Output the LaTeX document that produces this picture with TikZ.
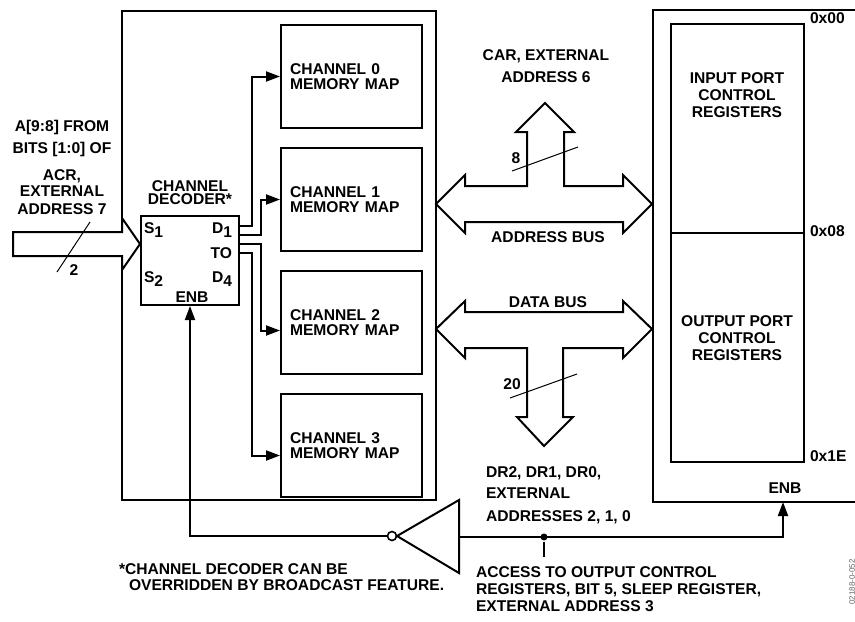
\documentclass[tikz,border=0pt]{standalone}
\usepackage{fontspec}
\setmainfont{Liberation Sans}
\usetikzlibrary{arrows.meta, positioning, calc}
\newcommand{\lowidx}[1]{\raisebox{-0.45ex}{#1}}

\begin{document}
\begin{tikzpicture}[x=0.5pt, y=-0.5pt, node distance=9pt, >={Triangle[length=7pt, width=5pt]}, line width=1pt,
  every node/.style={font=\bfseries\fontsize{7.8}{8.5}\selectfont, inner sep=0pt},
  memmap/.style={draw, minimum width=70.5pt, minimum height=51.5pt, text width=61.5pt, inner xsep=4.5pt, align=left, font=\bfseries\fontsize{7.8}{7.5}\selectfont},
  regbox/.style={draw, minimum width=66.5pt, outer sep=0pt},
  bus/.style={draw, fill=white},
  tick/.style={line width=0.5pt}]
  \useasboundingbox (0,0) rectangle (855,621);

  \node [draw, minimum width=157pt, minimum height=244.5pt, anchor=north west] (chip) at (121,10) {};
  \node [draw, minimum width=49pt, minimum height=44.5pt, anchor=north west, fill=white] (dec) at (140,215) {};
  \node [above=4.5pt of dec, align=center, font=\bfseries\fontsize{7.8}{6.5}\selectfont] (dectitle) {CHANNEL\\DECODER*};
  \node [anchor=west] (s1) at (143,230) {S\lowidx{1}};
  \node [anchor=west] (s2) at (143,279) {S\lowidx{2}};
  \node [anchor=east] (d1) at (233,230) {D\lowidx{1}};
  \node [anchor=east] (to) at (233,253) {TO};
  \node [anchor=east] (d4) at (233,279) {D\lowidx{4}};
  \node (enb) at (192,297) {ENB};

  \node [memmap, anchor=north west] (ch0) at (280,24) {CHANNEL 0\\MEMORY MAP};
  \node [memmap, below=of ch0] (ch1) {CHANNEL 1\\MEMORY MAP};
  \node [memmap, below=of ch1] (ch2) {CHANNEL 2\\MEMORY MAP};
  \node [memmap, below=of ch2] (ch3) {CHANNEL 3\\MEMORY MAP};

  \coordinate (o0) at ($(dec.north east)+(0,11)$);
  \coordinate (o1) at ($(dec.north east)+(0,20)$);
  \coordinate (o2) at ($(dec.north east)+(0,29)$);
  \coordinate (o3) at ($(dec.north east)+(0,38)$);
  \draw [->] (o0) -- ++(12,0) |- (ch0.west);
  \draw [->] (o1) -- ++(21,0) |- (ch1.west);
  \draw [->] (o2) -- ++(21,0) |- ($(ch2.west)+(0,8)$);
  \draw [->] (o3) -- ++(12,0) |- ($(ch3.west)+(0,10)$);

  % input bus
  \draw [bus] (13,232) -- (122,232) -- (122,218) -- (140,244) -- (122,270) -- (122,256) -- (13,256) -- cycle;
  \draw [tick] (90,222) -- (57,272);
  \node (w2) at (74,270) {2};
  \node [anchor=south, align=center, font=\bfseries\fontsize{7.8}{8}\selectfont] (srcin) at (62,216)
  {A[9:8] FROM\\[3pt]BITS [1:0] OF\\[5.5pt]ACR,\\EXTERNAL\\[1pt]ADDRESS 7};

  % address bus
  \draw [bus] (436,204) -- (465,175) -- (465,186) -- (527,186) -- (527,132) -- (516,132) -- (545,103)
    -- (574,132) -- (564,132) -- (564,186) -- (623,186) -- (623,175) -- (652,204) -- (623,233)
    -- (623,222) -- (465,222) -- (465,233) -- cycle;
  \draw [tick] (512,171) -- (578,147);
  \node (w8) at (516,158) {8};
  \node [align=center, font=\bfseries\fontsize{7.8}{11}\selectfont] (cartxt) at (546,66) {CAR, EXTERNAL\\ADDRESS 6};
  \node (abus) at (548,237) {ADDRESS BUS};

  % data bus
  \draw [bus] (436,329) -- (465,301) -- (465,312) -- (623,312) -- (623,301) -- (652,329) -- (623,358)
    -- (623,348) -- (563,348) -- (563,417) -- (573,417) -- (544,446) -- (517,417) -- (527,417)
    -- (527,348) -- (465,348) -- (465,358) -- cycle;
  \draw [tick] (510,398) -- (577,374);
  \node (w20) at (512,384) {20};
  \node (dbus) at (548,302) {DATA BUS};
  \node [anchor=north west, align=left, font=\bfseries\fontsize{7.8}{10.5}\selectfont] (drtxt) at (485,466)
  {DR2, DR1, DR0,\\EXTERNAL\\[1pt]ADDRESSES 2, 1, 0};

  % register file
  \draw (856,10) -- (653,10) -- (653,502) -- (856,502);
  \node [regbox, minimum height=104.5pt, anchor=north west] (inreg) at (671,24) {};
  \node [regbox, minimum height=114.5pt, below=0pt of inreg] (outreg) {};
  \node [align=center] (intxt) at (737,95) {INPUT PORT\\CONTROL\\REGISTERS};
  \node [align=center] (outtxt) at (737,338) {OUTPUT PORT\\CONTROL\\REGISTERS};
  \node [anchor=base west] (a00) at ($(inreg.north east)+(5,-1)$) {0x00};
  \node [anchor=base west] (a08) at ($(inreg.south east)+(5,3)$) {0x08};
  \node [anchor=base west] (a1e) at ($(outreg.south east)+(5,-1)$) {0x1E};
  \node (enbr) at (785,488) {ENB};
  \coordinate (enbin) at (783,502);

  % enable path
  \draw (459,500) -- (459,573) -- (397,536) -- cycle;
  \node [circle, draw, minimum size=4.5pt, line width=0.8pt] (bub) at (392,536) {};
  \coordinate (invin) at (459,537);
  \draw [->] (invin) -| (enbin);
  \draw [->] (bub.west) -| (dec.south);
  \node [circle, fill, minimum size=3.5pt] (tap) at (544,537) {};
  \draw (tap) -- ++(0,20);
  \node [anchor=north west, align=left] (access) at (475,566)
  {ACCESS TO OUTPUT CONTROL\\REGISTERS, BIT 5, SLEEP REGISTER,\\EXTERNAL ADDRESS 3};
  \node [anchor=north west, align=left, font=\bfseries\fontsize{7.8}{8}\selectfont] (note) at (118,563)
  {*CHANNEL DECODER CAN BE\\\hspace*{5pt}OVERRIDDEN BY BROADCAST FEATURE.};
  \node [rotate=90, font=\fontsize{4}{4}\selectfont, text=black!60] (figid) at (852,582) {02188-0-052};
\end{tikzpicture}
\end{document}
